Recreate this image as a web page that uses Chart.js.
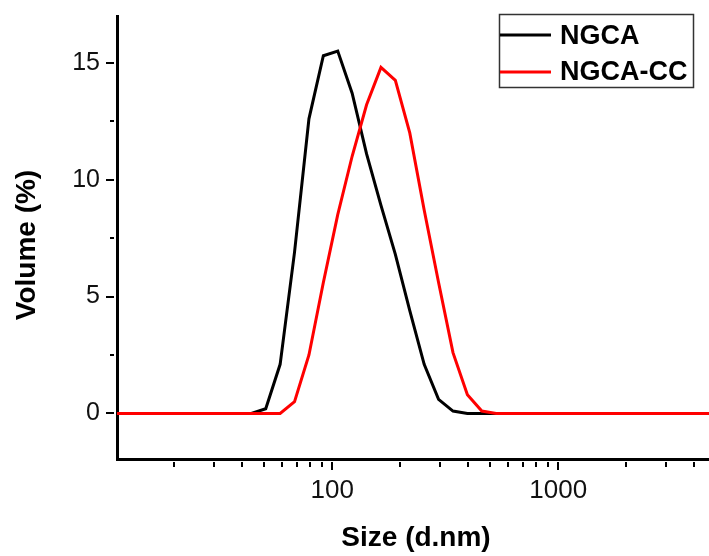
<!DOCTYPE html>
<html>
<head>
<meta charset="utf-8">
<script src="https://cdn.jsdelivr.net/npm/chart.js@4"></script>
<style>
  html, body { margin: 0; padding: 0; background: #fff; }
  canvas { display: block; }
</style>
</head>
<body>
<canvas id="canvas" width="709" height="556"></canvas>
<script>
'use strict';

// Size classes (d.nm) of the instrument
const sizes = [10.10, 11.70, 13.54, 15.69, 18.17, 21.04, 24.36, 28.21, 32.67, 37.84,
    43.82, 50.75, 58.77, 68.06, 78.82, 91.28, 105.7, 122.4, 141.8, 164.2,
    190.1, 220.2, 255.0, 295.3, 342.0, 396.1, 458.7, 531.2, 615.1, 712.4,
    825.0, 955.4, 1106, 1281, 1484, 1718, 1990, 2305, 2669, 3091,
    3580, 4145, 4801, 5560];

// Volume (%)
const ngca = [0, 0, 0, 0, 0, 0, 0, 0, 0, 0,
    0, 0.2, 2.1, 6.9, 12.6, 15.3, 15.5, 13.7, 11.1, 8.9,
    6.8, 4.4, 2.1, 0.6, 0.1, 0, 0, 0, 0, 0,
    0, 0, 0, 0, 0, 0, 0, 0, 0, 0,
    0, 0, 0, 0];
const ngcaCC = [0, 0, 0, 0, 0, 0, 0, 0, 0, 0,
    0, 0, 0, 0.5, 2.5, 5.6, 8.5, 11.0, 13.2, 14.8,
    14.25, 12.0, 8.7, 5.6, 2.6, 0.8, 0.1, 0, 0, 0,
    0, 0, 0, 0, 0, 0, 0, 0, 0, 0,
    0, 0, 0, 0];

const xMajorTicks = [100, 1000];
const yMajorTicks = [0, 5, 10, 15];
const yMinorTicks = [2.5, 7.5, 12.5];

const FONT = '"Liberation Sans", Arial, sans-serif';
Chart.defaults.font.family = FONT;

const toPoints = (ys) => sizes.map((s, i) => ({ x: s, y: ys[i] }));

// Minor/major tick marks, axis titles and boxed legend
const decorPlugin = {
    id: 'decor',
    afterDraw(chart) {
        const ctx = chart.ctx;
        const xs = chart.scales.x;
        const ys = chart.scales.y;
        const area = chart.chartArea;
        ctx.save();
        ctx.strokeStyle = '#000';
        ctx.lineWidth = 2;

        // y ticks
        const yEdge = area.left - 3;
        yMajorTicks.forEach(v => {
            const p = Math.round(ys.getPixelForValue(v));
            ctx.beginPath(); ctx.moveTo(yEdge - 8, p); ctx.lineTo(yEdge, p); ctx.stroke();
        });
        yMinorTicks.forEach(v => {
            const p = Math.round(ys.getPixelForValue(v));
            ctx.beginPath(); ctx.moveTo(yEdge - 4, p); ctx.lineTo(yEdge, p); ctx.stroke();
        });

        // x ticks (log decades)
        const xEdge = area.bottom + 3;
        for (let dec = 10; dec <= 1000; dec *= 10) {
            for (let m = 1; m <= 9; m++) {
                const v = dec * m;
                if (v < xs.min || v > xs.max) continue;
                const p = Math.round(xs.getPixelForValue(v));
                const len = m === 1 ? 8 : 5;
                ctx.beginPath(); ctx.moveTo(p, xEdge); ctx.lineTo(p, xEdge + len); ctx.stroke();
            }
        }

        // axis titles
        ctx.fillStyle = '#000';
        ctx.font = 'bold 28px ' + FONT;
        ctx.textAlign = 'center';
        ctx.textBaseline = 'alphabetic';
        ctx.fillText('Size (d.nm)', 416, 546);
        ctx.save();
        ctx.translate(35, 245);
        ctx.rotate(-Math.PI / 2);
        ctx.fillText('Volume (%)', 0, 0);
        ctx.restore();

        // legend
        ctx.fillStyle = '#fff';
        ctx.fillRect(499.5, 14.5, 194, 73);
        ctx.strokeStyle = '#333';
        ctx.lineWidth = 1.5;
        ctx.strokeRect(499.5, 14.5, 194, 73);
        const rows = [{ y: 35, base: 44 }, { y: 72, base: 80 }];
        const order = [1, 0];
        order.forEach((di, r) => {
            const ds = chart.data.datasets[di];
            ctx.strokeStyle = ds.borderColor;
            ctx.lineWidth = 3;
            ctx.beginPath(); ctx.moveTo(500, rows[r].y); ctx.lineTo(551, rows[r].y); ctx.stroke();
            ctx.fillStyle = '#000';
            ctx.font = 'bold 27px ' + FONT;
            ctx.textAlign = 'left';
            ctx.fillText(ds.label, 560, rows[r].base);
        });
        ctx.restore();
    }
};

const ctx = document.getElementById('canvas').getContext('2d');

new Chart(ctx, {
    type: 'line',
    data: {
        datasets: [
            {
                label: 'NGCA-CC',
                data: toPoints(ngcaCC),
                borderColor: '#ff0000',
                borderWidth: 3,
                pointRadius: 0,
                tension: 0,
                fill: false,
                order: 1
            },
            {
                label: 'NGCA',
                data: toPoints(ngca),
                borderColor: '#000000',
                borderWidth: 3,
                pointRadius: 0,
                tension: 0,
                fill: false,
                order: 2
            }
        ]
    },
    options: {
        responsive: false,
        animation: false,
        layout: { padding: { top: 16, right: 0, left: 0, bottom: 0 } },
        plugins: {
            legend: { display: false },
            tooltip: { enabled: false }
        },
        scales: {
            x: {
                type: 'logarithmic',
                min: 11.15,
                max: 4644,
                grid: { display: false, drawTicks: false },
                border: { display: true, color: '#000', width: 3 },
                afterBuildTicks: (scale) => { scale.ticks = xMajorTicks.map(v => ({ value: v })); },
                afterFit: (scale) => {
                    scale.height = 97;
                    scale.paddingLeft = 0;
                    scale.paddingRight = 0;
                },
                ticks: {
                    autoSkip: false,
                    maxRotation: 0,
                    color: '#111',
                    padding: 16,
                    font: { size: 26 },
                    callback: (v) => String(v)
                }
            },
            y: {
                min: -1.95,
                max: 17,
                grid: { display: false, drawTicks: false },
                border: { display: true, color: '#000', width: 3 },
                afterBuildTicks: (scale) => { scale.ticks = yMajorTicks.map(v => ({ value: v })); },
                afterFit: (scale) => {
                    scale.width = 117;
                    scale.paddingTop = 0;
                    scale.paddingBottom = 0;
                },
                ticks: {
                    color: '#111',
                    padding: 17,
                    font: { size: 25 },
                    callback: (v) => String(v)
                }
            }
        }
    },
    plugins: [decorPlugin]
});
</script>
</body>
</html>
